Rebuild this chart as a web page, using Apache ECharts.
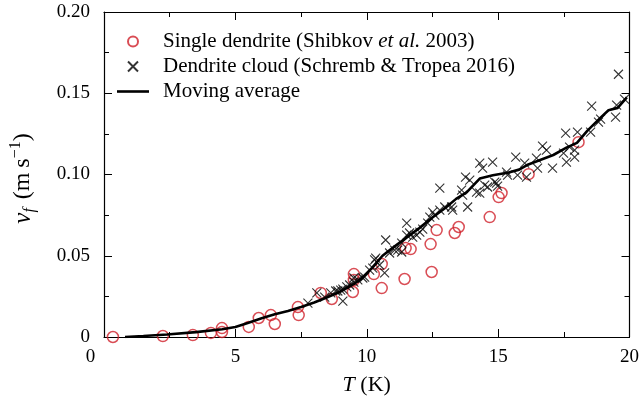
<!DOCTYPE html>
<html>
<head>
<meta charset="utf-8">
<script src="https://cdn.jsdelivr.net/npm/echarts@6/dist/echarts.min.js"></script>
<style>
  html, body { margin: 0; padding: 0; background: #fff; }
  #chart { width: 642px; height: 406px; }
</style>
</head>
<body>
<div id="chart"></div>
<script>
// Single dendrite measurements (Shibkov et al. 2003): undercooling T (K), tip velocity (m/s)
const singleT = [0.34, 2.24, 3.38, 4.07, 4.49, 4.49, 5.51, 5.89, 6.35, 6.50, 7.38, 7.41, 8.25, 8.67,
  9.51, 9.51, 9.47, 10.27, 10.57, 10.57, 11.44, 11.48, 11.67, 12.43, 12.47, 12.66, 13.35, 13.50,
  14.68, 15.02, 15.13, 16.16, 18.06];
const singleV = [0.0000, 0.0006, 0.0012, 0.0025, 0.0055, 0.0031, 0.0062, 0.0117, 0.0135, 0.0080, 0.0184, 0.0135, 0.0271, 0.0234,
  0.0387, 0.0351, 0.0277, 0.0387, 0.0449, 0.0301, 0.0357, 0.0547, 0.0541, 0.0572, 0.0400, 0.0658, 0.0640, 0.0677,
  0.0738, 0.0861, 0.0886, 0.1002, 0.1199];

// Dendrite cloud measurements (Schremb & Tropea 2016)
const cloudT = [7.76, 8.10, 8.40, 8.63, 8.82, 8.90, 9.01, 9.09, 9.09, 9.24, 9.35, 9.51, 9.51,
  9.66, 9.85, 9.92, 10.11, 10.23, 10.30, 10.34, 10.49, 10.68, 10.72, 10.87, 11.06, 11.18,
  11.33, 11.33, 11.52, 11.52, 11.63, 11.75, 11.90, 12.02, 12.13, 12.32, 12.40, 12.51, 12.59, 12.78, 12.78, 12.97, 13.23, 13.27,
  13.61, 13.65, 13.76, 13.84, 13.92, 14.18, 14.30, 14.30, 14.41, 14.49, 14.60, 14.79, 14.87, 14.94, 14.98,
  15.32, 15.36, 15.67, 15.74, 16.01, 16.08, 16.46, 16.50, 16.69, 16.84, 17.07,
  17.49, 17.57, 17.60, 17.72, 17.91, 17.91, 18.02, 18.52, 18.56, 18.82, 18.90, 19.47, 19.51, 19.58, 19.81];
const cloudV = [0.0209, 0.0271, 0.0246, 0.0271, 0.0283, 0.0283, 0.0289, 0.0295, 0.0221, 0.0308, 0.0320, 0.0338, 0.0363,
  0.0351, 0.0363, 0.0369, 0.0412, 0.0424, 0.0474, 0.0486, 0.0443, 0.0394, 0.0597, 0.0517, 0.0535, 0.0535,
  0.0578, 0.0523, 0.0627, 0.0701, 0.0640, 0.0615, 0.0627, 0.0646, 0.0664, 0.0701, 0.0738, 0.0769, 0.0750, 0.0916, 0.0781, 0.0800, 0.0800, 0.0781,
  0.0904, 0.0873, 0.0984, 0.0800, 0.0966, 0.0892, 0.0886, 0.1070, 0.1039, 0.0935, 0.0923, 0.1076, 0.0953, 0.0947, 0.0929,
  0.1015, 0.0996, 0.1107, 0.0996, 0.1070, 0.0984, 0.1101, 0.1039, 0.1175, 0.1150, 0.1039,
  0.1132, 0.1255, 0.1076, 0.1168, 0.1107, 0.1150, 0.1261, 0.1261, 0.1421, 0.1322, 0.1341, 0.1353, 0.1427, 0.1617, 0.1464];

// Moving average through both data sets
const avgT = [0.8, 1.5, 2.4, 3.5, 4.5, 5.0, 5.5, 6.0, 6.5, 7.0, 7.5, 8.0, 8.5, 9.0, 9.5, 9.8,
  10.2, 10.6, 11.0, 11.5, 12.0, 12.5, 13.0, 13.4, 13.8, 14.3, 14.8, 15.4, 15.8, 16.1, 16.6,
  17.1, 17.6, 18.0, 18.4, 18.9, 19.2, 19.55, 19.9];
const avgV = [0.0000, 0.0006, 0.0015, 0.0030, 0.0048, 0.0062, 0.0088, 0.0115, 0.0140, 0.0160, 0.0185, 0.0212, 0.0245, 0.0280, 0.0325, 0.0360,
  0.0425, 0.0500, 0.0550, 0.0610, 0.0670, 0.0735, 0.0795, 0.0850, 0.0890, 0.0975, 0.0995, 0.1012, 0.1030, 0.1058, 0.1089,
  0.1120, 0.1165, 0.1195, 0.1270, 0.1350, 0.1395, 0.1410, 0.1475];

const seriesNames = ['Single dendrite (Shibkov et al. 2003)', 'Dendrite cloud (Schremb & Tropea 2016)', 'Moving average'];

const pairs = (xs, ys) => xs.map((x, i) => [x, ys[i]]);
const FONT = 'Liberation Serif';
const CROSS = 'path://M0,0L10,10M10,0L0,10';
// thin horizontal bar inside a 32x10 box, used as the line's legend key
const LINE_KEY = 'path://M0,0L0,0M0,10L0,10M0,3.7H32V6.3H0Z';

const chart = echarts.init(document.getElementById('chart'), null, { renderer: 'canvas' });

// One axis per side for the major ticks (with the frame line) and one for the minor ticks
function frameAxis(kind, position, interval, tickLen, withLine, extra) {
  const base = {
    type: 'value',
    position: position,
    min: 0,
    max: kind === 'x' ? 20 : 0.2,
    interval: interval,
    axisLine: { show: withLine, onZero: false, lineStyle: { color: '#000', width: 1.2 } },
    axisTick: { show: true, inside: true, length: tickLen, lineStyle: { color: '#000', width: 1 } },
    axisLabel: { show: false },
    splitLine: { show: false }
  };
  return Object.assign(base, extra || {});
}

chart.setOption({
  animation: false,
  backgroundColor: '#fff',
  textStyle: { fontFamily: FONT, color: '#000' },
  grid: { left: 104, right: 12, top: 12, bottom: 69 },
  legend: {
    orient: 'vertical',
    left: 112,
    top: 26,
    itemWidth: 32,
    itemHeight: 10,
    itemGap: 4,
    data: [
      { name: seriesNames[0] },
      { name: seriesNames[1] },
      { name: seriesNames[2], icon: LINE_KEY, itemStyle: { color: '#000', borderWidth: 0 } }
    ],
    textStyle: {
      fontFamily: FONT, fontSize: 21, color: '#000', padding: [0, 0, 0, 9],
      rich: { i: { fontFamily: FONT, fontSize: 21, fontStyle: 'italic', color: '#000' } }
    },
    formatter: name => name.replace('et al.', '{i|et al.}')
  },
  xAxis: [
    frameAxis('x', 'bottom', 5, 8, true, {
      axisLabel: {
        show: true, margin: 11, fontFamily: FONT, fontSize: 19, color: '#000',
        formatter: v => v === 0 ? '{z|0}' : String(v),
        rich: { z: { fontFamily: FONT, fontSize: 19, color: '#000', padding: [0, 27, 0, 0] } }
      },
      name: '{i|T} (K)',
      nameLocation: 'middle',
      nameGap: 37,
      nameTextStyle: {
        fontFamily: FONT, fontSize: 22, color: '#000',
        rich: { i: { fontFamily: FONT, fontSize: 22, fontStyle: 'italic', color: '#000' } }
      }
    }),
    frameAxis('x', 'bottom', 2.5, 5, false),
    frameAxis('x', 'top', 5, 8, true),
    frameAxis('x', 'top', 2.5, 5, false)
  ],
  yAxis: [
    frameAxis('y', 'left', 0.05, 8, true, {
      axisLabel: {
        show: true, margin: 14, fontFamily: FONT, fontSize: 19, color: '#000',
        formatter: v => v === 0 ? '0' : v.toFixed(2)
      },
      name: '{v|v}{f|f}{t| (m\u2009s}{s|\u22121}{t|)}',
      nameLocation: 'middle',
      nameRotate: 90,
      nameGap: 66,
      nameTextStyle: {
        fontFamily: FONT, fontSize: 24, color: '#000', padding: [0, 8, 0, 0],
        rich: {
          v: { fontFamily: FONT, fontSize: 25, fontStyle: 'italic', color: '#000', lineHeight: 30, verticalAlign: 'middle' },
          f: { fontFamily: FONT, fontSize: 16, fontStyle: 'italic', color: '#000', lineHeight: 16, verticalAlign: 'bottom', padding: [0, 3, 0, 0] },
          t: { fontFamily: FONT, fontSize: 24, color: '#000', lineHeight: 30, verticalAlign: 'middle' },
          s: { fontFamily: FONT, fontSize: 16, color: '#000', lineHeight: 16, verticalAlign: 'top' }
        }
      }
    }),
    frameAxis('y', 'left', 0.025, 5, false),
    frameAxis('y', 'right', 0.05, 8, true),
    frameAxis('y', 'right', 0.025, 5, false)
  ],
  series: [
    {
      name: seriesNames[0],
      type: 'scatter',
      data: pairs(singleT, singleV),
      symbol: 'circle',
      symbolSize: 11,
      itemStyle: { color: 'rgba(255,255,255,0)', borderColor: '#d0202a', borderWidth: 1.5 },
      z: 3
    },
    {
      name: seriesNames[1],
      type: 'scatter',
      data: pairs(cloudT, cloudV),
      symbol: CROSS,
      symbolSize: 9,
      itemStyle: { color: 'rgba(0,0,0,0)', borderColor: '#000', borderWidth: 1.1 },
      z: 3
    },
    {
      name: seriesNames[2],
      type: 'line',
      data: pairs(avgT, avgV),
      showSymbol: false,
      symbol: 'none',
      lineStyle: { color: '#000', width: 2.6 },
      itemStyle: { color: '#000' },
      z: 4
    }
  ]
});
</script>
</body>
</html>
